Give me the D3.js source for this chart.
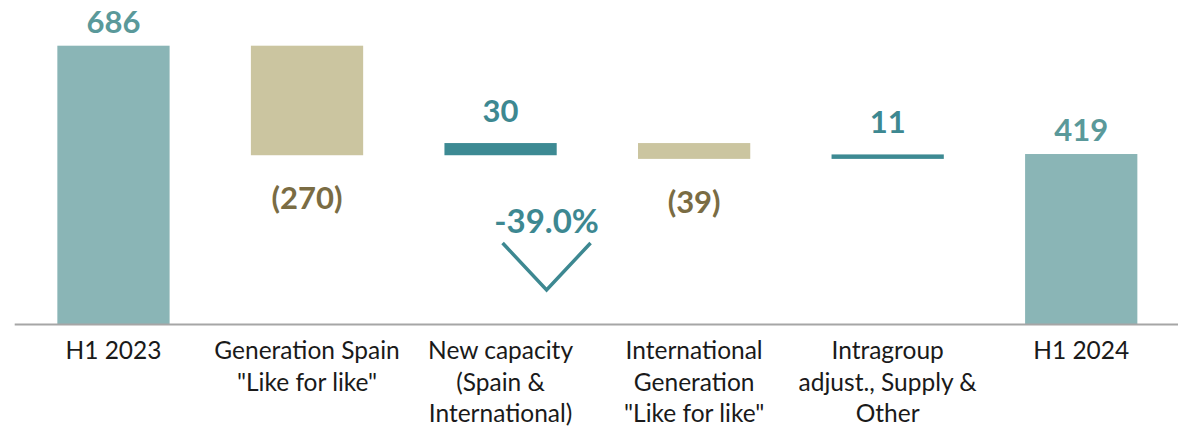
<!DOCTYPE html>
<html>
<head>
<meta charset="utf-8">
<script src="https://cdn.jsdelivr.net/npm/d3@7"></script>
<style>
  html, body { margin: 0; padding: 0; background: #fff; }
  svg { display: block; }
</style>
</head>
<body>
<div id="chart"></div>
<script>
// categories, as the lines they are broken into under the axis
const categories = ["H1 2023", "Generation Spain", "New capacity", "International Generation", "Intragroup", "H1 2024"]
const tickLines = [
  ["H1 2023"],
  ["Generation Spain", "\"Like for like\""],
  ["New capacity", "(Spain &", "International)"],
  ["International", "Generation", "\"Like for like\""],
  ["Intragroup", "adjust., Supply &", "Other"],
  ["H1 2024"]
]
// values: totals are absolute, the rest are changes
const values = [686, -270, 30, -39, 11, 419]
const kinds = ["total", "delta", "delta", "delta", "delta", "total"]
const valueLabels = ["686", "(270)", "30", "(39)", "11", "419"]
const changeLabel = "-39.0%"

const width = 1185
const height = 430
const baseY = 324

const colors = {
  total: "#8ab5b6",
  totalText: "#5a999a",
  up: "#3d8a93",
  upText: "#3d8891",
  down: "#cbc5a0",
  downText: "#7a6c43",
  axis: "#a6a6a6",
  text: "#1a1a1a"
}

// running start / end for each bar
let running = 0
const bars = values.map((v, i) => {
  let y0, y1
  if (kinds[i] === "total") {
    y0 = 0; y1 = v; running = v
  } else {
    y0 = running; y1 = running + v; running = y1
  }
  return { cat: categories[i], value: v, kind: kinds[i], y0, y1, label: valueLabels[i], lines: tickLines[i] }
})

const x = d3.scaleBand()
  .domain(categories)
  .range([16.7, 1178])
  .paddingInner(0.42)
  .paddingOuter(0.21)

const y = d3.scaleLinear()
  .domain([0, 686])
  .range([baseY, 45.7])

const svg = d3.select("#chart").append("svg")
  .attr("width", width)
  .attr("height", height)
  .attr("font-family", "Lato, 'Open Sans', sans-serif")

const fillOf = d => d.kind === "total" ? colors.total : (d.value >= 0 ? colors.up : colors.down)
const textOf = d => d.kind === "total" ? colors.totalText : (d.value >= 0 ? colors.upText : colors.downText)

svg.append("g")
  .selectAll("rect")
  .data(bars)
  .join("rect")
    .attr("x", d => x(d.cat))
    .attr("width", x.bandwidth())
    .attr("y", d => y(Math.max(d.y0, d.y1)))
    .attr("height", d => Math.abs(y(d.y0) - y(d.y1)))
    .attr("fill", fillOf)

// axis baseline
svg.append("line")
  .attr("x1", x.range()[0] - 2)
  .attr("x2", x.range()[1])
  .attr("y1", baseY + 0.5)
  .attr("y2", baseY + 0.5)
  .attr("stroke", colors.axis)
  .attr("stroke-width", 2)

// value labels
svg.append("g")
  .attr("font-weight", 700)
  .attr("font-size", 31)
  .attr("text-anchor", "middle")
  .selectAll("text")
  .data(bars)
  .join("text")
    .attr("x", d => x(d.cat) + x.bandwidth() / 2)
    .attr("y", d => {
      const top = y(Math.max(d.y0, d.y1))
      const bottom = y(Math.min(d.y0, d.y1))
      if (d.kind === "total") return top - 13
      return d.value >= 0 ? top - 21 : bottom + 54
    })
    .attr("fill", textOf)
    .text(d => d.label)

// category labels
svg.append("g")
  .attr("font-size", 24.5)
  .attr("text-anchor", "middle")
  .attr("fill", colors.text)
  .selectAll("text")
  .data(bars)
  .join("text")
    .attr("x", d => x(d.cat) + x.bandwidth() / 2)
    .attr("y", 359)
    .selectAll("tspan")
    .data(d => d.lines.map(l => ({ l, cx: x(d.cat) + x.bandwidth() / 2 })))
    .join("tspan")
      .attr("x", t => t.cx)
      .attr("dy", (t, i) => i === 0 ? 0 : 31.5)
      .text(t => t.l)

// change annotation: percentage and down chevron
const cx = x(categories[2]) + x.bandwidth() / 2 + 46
const ann = svg.append("g").attr("transform", `translate(${cx},0)`)
ann.append("text")
  .attr("x", 0)
  .attr("y", 233)
  .attr("text-anchor", "middle")
  .attr("font-weight", 700)
  .attr("font-size", 33)
  .attr("fill", colors.upText)
  .text(changeLabel)
ann.append("path")
  .attr("d", d3.line()([[-44, 243], [0, 290], [44, 243]]))
  .attr("fill", "none")
  .attr("stroke", colors.upText)
  .attr("stroke-width", 3.5)
</script>
</body>
</html>
